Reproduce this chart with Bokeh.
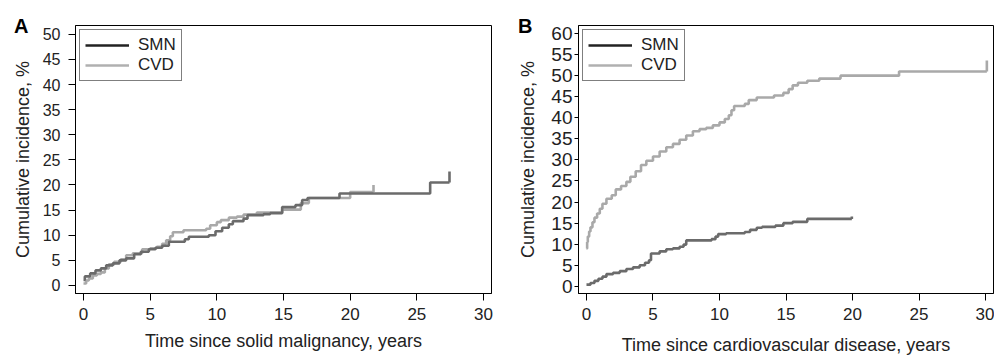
from bokeh.plotting import figure
from bokeh.layouts import row
from bokeh.models import FixedTicker, Legend, LegendItem, Range1d, LinearAxis
from bokeh.embed import file_html
from bokeh.resources import INLINE

# ---- Data ----
smn_a_t = [0.0, 0.1, 0.5, 0.9, 1.3, 1.7, 2.2, 2.7, 3.2, 3.8, 4.3, 4.9, 5.4, 5.9, 6.4, 7.6, 7.9,
           9.4, 9.9, 10.4, 10.9, 11.2, 12.0, 12.3, 13.5, 14.0, 14.9, 15.9, 16.4, 16.8, 19.2, 26.0]
smn_a_v = [1.1, 1.8, 2.4, 3.0, 3.4, 4.0, 4.4, 5.0, 5.4, 6.2, 6.7, 7.2, 7.5, 7.9, 8.7, 9.2, 9.7,
           10.0, 10.8, 11.5, 12.2, 12.8, 13.3, 14.0, 14.2, 14.4, 15.6, 16.0, 17.0, 17.4, 18.3, 20.5]
smn_a_end = 27.45
smn_a_tick = 22.7

cvd_a_t = [0.0, 0.2, 0.4, 0.7, 1.0, 1.3, 1.6, 1.9, 2.3, 2.8, 3.2, 3.7, 4.4, 5.0, 5.5, 5.9, 6.2,
           6.5, 6.7, 7.5, 9.2, 9.5, 10.0, 10.3, 10.9, 11.5, 12.0, 13.0, 14.9, 16.3, 16.9, 20.0]
cvd_a_v = [0.4, 1.0, 1.4, 2.0, 2.3, 2.6, 3.4, 4.2, 4.7, 5.2, 6.0, 6.4, 7.2, 7.4, 7.7, 8.3, 9.0,
           9.8, 10.6, 11.0, 11.3, 12.0, 12.6, 13.0, 13.5, 13.7, 14.1, 14.5, 15.1, 16.4, 17.4, 18.6]
cvd_a_end = 21.75
cvd_a_tick = 20.0

smn_b_t = [0.0, 0.3, 0.6, 0.9, 1.2, 1.5, 2.0, 2.5, 3.0, 3.5, 4.0, 4.4, 4.7, 4.85, 5.5, 6.0,
           6.5, 7.0, 7.3, 7.5, 9.4, 9.7, 9.9, 10.5, 11.9, 12.3, 12.8, 13.2, 14.2, 14.8, 15.5, 16.6]
smn_b_v = [0.4, 0.8, 1.3, 1.8, 2.3, 2.9, 3.2, 3.6, 4.1, 4.5, 5.0, 5.6, 6.2, 7.8, 8.3, 8.8,
           9.0, 9.4, 9.9, 10.9, 11.2, 11.8, 12.4, 12.6, 12.9, 13.4, 13.9, 14.1, 14.4, 15.0, 15.3, 16.0]
smn_b_end = 19.95
smn_b_tick = 16.6

cvd_b_t = [0.0, 0.05, 0.1, 0.2, 0.3, 0.45, 0.6, 0.8, 1.0, 1.2, 1.5, 1.9, 2.2, 2.6, 3.0, 3.3,
           3.7, 4.1, 4.5, 5.0, 5.5, 6.0, 6.5, 7.0, 7.5, 8.0, 8.5, 9.0, 9.5, 10.0, 10.4, 10.7,
           10.9, 11.1, 11.9, 12.2, 12.8, 14.1, 14.8, 15.2, 15.5, 15.9, 16.6, 17.5, 19.1, 23.5]
cvd_b_v = [9.0, 10.5, 11.8, 13.0, 14.0, 15.2, 16.3, 17.3, 18.4, 19.6, 20.8, 21.6, 23.0, 23.8,
           24.8, 26.0, 27.3, 28.8, 29.8, 30.8, 32.0, 33.0, 33.8, 34.8, 35.8, 36.8, 37.3, 37.6,
           38.2, 38.9, 39.7, 40.6, 41.8, 42.8, 43.3, 44.2, 44.8, 45.3, 45.9, 46.8, 47.7, 48.3,
           48.8, 49.3, 50.0, 51.0]
cvd_b_end = 30.1
cvd_b_tick = 53.6

x_ticks = [0, 5, 10, 15, 20, 25, 30]
y_ticks_a = [0, 5, 10, 15, 20, 25, 30, 35, 40, 45, 50]
y_ticks_b = [0, 5, 10, 15, 20, 25, 30, 35, 40, 45, 50, 55, 60]
series_names = ["SMN", "CVD"]
panel_letters = ["A", "B"]
x_titles = ["Time since solid malignancy, years", "Time since cardiovascular disease, years"]
y_title = "Cumulative incidence, %"

FONT = "Liberation Sans"
TXT = "#222222"
SMN_COL = "#6b6b6b"
CVD_COL = "#a9a9a9"
SMN_LEG = "#222222"
CVD_LEG = "#b0b0b0"
NAN = float("nan")


def make_panel(letter, letter_standoff, xlabel, yticks, yrange, smn, cvd, width, bl, br,
               ytick_size, ytick_out, ytick_standoff, ylab_standoff, xtick_standoff,
               xlab_standoff):
    p = figure(width=width, height=357, output_backend="svg", toolbar_location=None,
               x_range=Range1d(-0.6, 30.6), y_range=Range1d(*yrange),
               min_border_left=bl, min_border_right=br, min_border_top=25, min_border_bottom=58)
    p.grid.visible = False
    p.outline_line_color = "black"
    p.outline_line_width = 1
    p.background_fill_color = "white"
    p.border_fill_color = "white"

    for ax in (p.xaxis[0], p.yaxis[0]):
        ax.axis_line_color = "black"
        ax.major_tick_line_color = "black"
        ax.minor_tick_line_color = None
        ax.major_tick_in = 0
        ax.major_label_text_font = FONT
        ax.major_label_text_color = TXT
        ax.axis_label_text_font = FONT
        ax.axis_label_text_font_style = "normal"
        ax.axis_label_text_color = TXT
        ax.axis_label_text_font_size = "18px"
    p.xaxis.ticker = FixedTicker(ticks=x_ticks)
    p.yaxis.ticker = FixedTicker(ticks=yticks)
    p.xaxis.major_tick_out = 7
    p.yaxis.major_tick_out = ytick_out
    p.xaxis.major_label_text_font_size = "17px"
    p.yaxis.major_label_text_font_size = ytick_size
    p.xaxis.major_label_standoff = xtick_standoff
    p.yaxis.major_label_standoff = ytick_standoff
    p.xaxis.axis_label = xlabel
    p.xaxis.axis_label_standoff = xlab_standoff
    p.xaxis.major_label_text_line_height = 0.9
    p.xaxis.axis_label_text_line_height = 0.9
    p.yaxis.axis_label = y_title
    p.yaxis.axis_label_standoff = ylab_standoff

    # panel letter, drawn as the single label of an outer, line-less axis
    top_tick = yrange[1] - 0.05
    letter_axis = LinearAxis(ticker=FixedTicker(ticks=[top_tick]),
                             major_label_overrides={top_tick: letter},
                             axis_line_color=None, major_tick_line_color=None,
                             minor_tick_line_color=None, major_tick_out=0, major_tick_in=0,
                             major_label_standoff=letter_standoff,
                             major_label_text_font=FONT, major_label_text_font_size="20px",
                             major_label_text_font_style="bold",
                             major_label_text_color="black")
    p.add_layout(letter_axis, "left")

    (st, sv, se, stk), (ct, cv, ce, ctk) = smn, cvd
    p.step(ct + [ce], cv + [cv[-1]], mode="after", line_color=CVD_COL, line_width=2.6)
    p.segment(x0=[ce], y0=[cv[-1]], x1=[ce], y1=[ctk], line_color=CVD_COL, line_width=2.6)
    p.step(st + [se], sv + [sv[-1]], mode="after", line_color=SMN_COL, line_width=2.6)
    p.segment(x0=[se], y0=[sv[-1]], x1=[se], y1=[stk], line_color=SMN_COL, line_width=2.6)

    r1 = p.line(x=[NAN], y=[NAN], line_color=SMN_LEG, line_width=2.4)
    r2 = p.line(x=[NAN], y=[NAN], line_color=CVD_LEG, line_width=2.4)
    leg = Legend(items=[LegendItem(label=series_names[0], renderers=[r1]),
                        LegendItem(label=series_names[1], renderers=[r2])],
                 location="top_left")
    leg.margin = 4
    leg.padding = 5
    leg.spacing = 0
    leg.glyph_width = 44
    leg.glyph_height = 18
    leg.label_height = 18
    leg.label_standoff = 9
    leg.label_text_font = FONT
    leg.label_text_font_size = "17px"
    leg.label_text_color = TXT
    leg.label_text_baseline = "middle"
    leg.border_line_color = "black"
    leg.border_line_width = 1
    leg.background_fill_alpha = 1.0
    p.add_layout(leg)
    return p


pa = make_panel(panel_letters[0], -19, x_titles[0], y_ticks_a, (-1.6, 51.75),
                (smn_a_t, smn_a_v, smn_a_end, smn_a_tick), (cvd_a_t, cvd_a_v, cvd_a_end, cvd_a_tick),
                496, 75, 5, "16px", 7, 8, 7, 7, 8)
pb = make_panel(panel_letters[1], -17, x_titles[1], y_ticks_b, (-1.7, 61.9),
                (smn_b_t, smn_b_v, smn_b_end, smn_b_tick), (cvd_b_t, cvd_b_v, cvd_b_end, cvd_b_tick),
                498, 82, 1, "19px", 4, 2, 10, 7, 12)

layout = row(pa, pb)
open("out.html", "w").write(file_html(layout, INLINE))
